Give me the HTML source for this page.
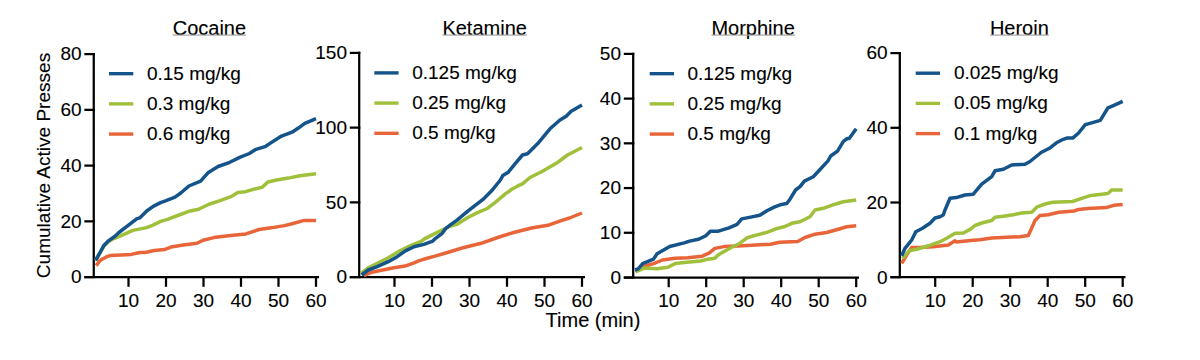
<!DOCTYPE html>
<html><head><meta charset="utf-8"><style>
html,body{margin:0;padding:0;background:#fff;width:1200px;height:360px;overflow:hidden}
svg{display:block}
text{font-family:"Liberation Sans",sans-serif;fill:#000;stroke:#000;stroke-width:0.12px}
.ax path{stroke:#000;stroke-width:2.25;fill:none;stroke-linecap:butt}
.tk{font-size:19px}
.lg{font-size:19px}
.tt{font-size:20px}
.yl{font-size:19.05px}
.xl{font-size:20px}
</style></head><body>
<svg width="1200" height="360" viewBox="0 0 1200 360">
<text class="yl" transform="translate(50 165.5) rotate(-90)" text-anchor="middle">Cumulative Active Presses</text>
<text class="xl" x="593" y="326.5" text-anchor="middle">Time (min)</text>
<g class="ax"><path d="M93.75 52.98V277.10M84.35 277.10H319.00" /><path d="M84.35 277.10H94.87" /><text x="81.55" y="283.40" text-anchor="end" class="tk">0</text><path d="M84.35 221.35H94.87" /><text x="81.55" y="227.65" text-anchor="end" class="tk">20</text><path d="M84.35 165.60H94.87" /><text x="81.55" y="171.90" text-anchor="end" class="tk">40</text><path d="M84.35 109.85H94.87" /><text x="81.55" y="116.15" text-anchor="end" class="tk">60</text><path d="M84.35 54.10H94.87" /><text x="81.55" y="60.40" text-anchor="end" class="tk">80</text><path d="M128.50 277.10V286.80" /><text x="128.50" y="306.60" text-anchor="middle" class="tk">10</text><path d="M166.00 277.10V286.80" /><text x="166.00" y="306.60" text-anchor="middle" class="tk">20</text><path d="M203.50 277.10V286.80" /><text x="203.50" y="306.60" text-anchor="middle" class="tk">30</text><path d="M241.00 277.10V286.80" /><text x="241.00" y="306.60" text-anchor="middle" class="tk">40</text><path d="M278.50 277.10V286.80" /><text x="278.50" y="306.60" text-anchor="middle" class="tk">50</text><path d="M316.00 277.10V286.80" /><text x="316.00" y="306.60" text-anchor="middle" class="tk">60</text></g><path d="M109.00 73.67H133.30" stroke="#14548a" stroke-width="3.4" fill="none"/><text x="146.90" y="79.57" class="lg">0.15 mg/kg</text><path d="M109.00 103.87H133.30" stroke="#a0c03c" stroke-width="3.4" fill="none"/><text x="146.90" y="109.77" class="lg">0.3 mg/kg</text><path d="M109.00 134.07H133.30" stroke="#e8653a" stroke-width="3.4" fill="none"/><text x="146.90" y="139.97" class="lg">0.6 mg/kg</text><text x="172.70" y="34.6" class="tt">Cocaine</text><rect x="172.70" y="34.5" width="73.40" height="1.15" fill="#a0a0a0"/><path d="M96.2 265.6 L100.0 260.6 L106.2 256.9 L110.0 255.6 L121.2 255.0 L131.2 254.4 L140.0 252.5 L145.0 252.5 L154.2 250.5 L164.9 249.4 L171.0 247.1 L183.2 245.1 L197.0 243.3 L203.1 240.2 L213.8 237.6 L230.6 235.5 L245.9 233.9 L259.1 229.5 L272.7 227.6 L284.4 225.6 L292.1 223.7 L303.3 220.6 L316.0 220.6" stroke="#e8653a" stroke-width="3.5" fill="none" stroke-linejoin="round" stroke-linecap="butt"/><path d="M95.6 260.5 L100.0 253.0 L103.8 246.3 L108.0 242.0 L112.0 239.5 L118.9 236.7 L132.8 230.4 L146.7 227.6 L153.6 224.9 L160.6 221.4 L167.5 219.3 L175.0 216.5 L188.9 211.3 L198.6 209.3 L208.4 204.5 L220.0 200.6 L231.7 196.3 L237.8 192.6 L245.5 191.7 L253.3 189.3 L262.0 187.4 L267.9 182.0 L276.6 180.0 L288.3 178.1 L299.9 175.7 L316.0 173.8" stroke="#a0c03c" stroke-width="3.5" fill="none" stroke-linejoin="round" stroke-linecap="butt"/><path d="M95.6 260.3 L100.0 252.5 L103.8 245.6 L108.8 240.6 L115.0 236.2 L118.9 232.5 L127.2 226.2 L137.0 218.6 L139.7 217.9 L146.7 211.0 L153.6 206.1 L160.6 202.6 L166.1 200.6 L175.0 197.1 L181.1 192.8 L188.9 186.0 L200.6 181.1 L208.4 172.4 L218.1 166.5 L229.8 162.3 L239.7 157.4 L249.4 153.5 L255.2 149.7 L265.0 146.7 L270.8 142.9 L281.5 136.1 L292.1 132.2 L298.0 128.3 L304.8 123.4 L316.0 118.6" stroke="#14548a" stroke-width="3.5" fill="none" stroke-linejoin="round" stroke-linecap="butt"/><g class="ax"><path d="M359.20 51.78V277.10M349.80 277.10H585.00" /><path d="M349.80 277.10H360.32" /><text x="347.00" y="283.40" text-anchor="end" class="tk">0</text><path d="M349.80 202.37H360.32" /><text x="347.00" y="208.67" text-anchor="end" class="tk">50</text><path d="M349.80 127.63H360.32" /><text x="347.00" y="133.93" text-anchor="end" class="tk">100</text><path d="M349.80 52.90H360.32" /><text x="347.00" y="59.20" text-anchor="end" class="tk">150</text><path d="M394.50 277.10V286.80" /><text x="394.50" y="306.60" text-anchor="middle" class="tk">10</text><path d="M432.00 277.10V286.80" /><text x="432.00" y="306.60" text-anchor="middle" class="tk">20</text><path d="M469.50 277.10V286.80" /><text x="469.50" y="306.60" text-anchor="middle" class="tk">30</text><path d="M507.00 277.10V286.80" /><text x="507.00" y="306.60" text-anchor="middle" class="tk">40</text><path d="M544.50 277.10V286.80" /><text x="544.50" y="306.60" text-anchor="middle" class="tk">50</text><path d="M582.00 277.10V286.80" /><text x="582.00" y="306.60" text-anchor="middle" class="tk">60</text></g><path d="M374.30 72.90H398.60" stroke="#14548a" stroke-width="3.4" fill="none"/><text x="412.20" y="78.80" class="lg">0.125 mg/kg</text><path d="M374.30 103.10H398.60" stroke="#a0c03c" stroke-width="3.4" fill="none"/><text x="412.20" y="109.00" class="lg">0.25 mg/kg</text><path d="M374.30 133.30H398.60" stroke="#e8653a" stroke-width="3.4" fill="none"/><text x="412.20" y="139.20" class="lg">0.5 mg/kg</text><text x="442.40" y="34.6" class="tt">Ketamine</text><rect x="442.40" y="34.5" width="84.50" height="1.15" fill="#a0a0a0"/><path d="M363.9 275.6 L371.7 272.2 L382.8 270.0 L393.9 267.8 L405.0 266.1 L412.8 263.3 L419.4 260.6 L427.2 258.3 L435.0 256.1 L445.0 253.2 L463.0 247.8 L481.1 243.3 L499.2 237.0 L513.6 232.5 L531.6 228.0 L547.9 225.3 L560.5 220.8 L569.5 218.0 L582.0 213.0" stroke="#e8653a" stroke-width="3.5" fill="none" stroke-linejoin="round" stroke-linecap="butt"/><path d="M360.8 273.3 L368.3 267.8 L377.2 263.3 L388.3 257.8 L399.4 251.1 L410.6 245.6 L421.7 241.1 L424.4 238.9 L433.3 234.4 L438.9 231.7 L447.8 227.2 L449.0 226.5 L456.7 224.4 L467.8 217.5 L477.5 212.6 L487.2 208.5 L495.6 202.2 L505.3 193.9 L512.2 189.0 L520.0 184.9 L522.5 183.8 L530.0 177.5 L542.5 171.2 L557.5 162.5 L567.5 155.0 L582.0 147.5" stroke="#a0c03c" stroke-width="3.5" fill="none" stroke-linejoin="round" stroke-linecap="butt"/><path d="M361.7 275.0 L368.3 270.0 L377.2 266.7 L388.3 261.7 L397.2 256.7 L405.0 251.1 L413.9 246.7 L423.9 244.4 L432.8 241.1 L435.6 238.3 L442.2 233.3 L445.6 228.6 L450.0 225.2 L456.7 220.3 L467.8 211.2 L483.0 199.4 L491.4 191.1 L500.4 180.0 L502.8 175.6 L508.3 172.2 L515.0 163.8 L522.5 155.0 L527.5 153.8 L537.5 143.8 L550.0 128.8 L560.0 120.0 L566.2 116.2 L571.2 111.2 L582.0 105.0" stroke="#14548a" stroke-width="3.5" fill="none" stroke-linejoin="round" stroke-linecap="butt"/><g class="ax"><path d="M633.20 52.78V277.50M623.80 277.50H859.00" /><path d="M623.80 277.50H634.32" /><text x="621.00" y="283.80" text-anchor="end" class="tk">0</text><path d="M623.80 232.78H634.32" /><text x="621.00" y="239.08" text-anchor="end" class="tk">10</text><path d="M623.80 188.06H634.32" /><text x="621.00" y="194.36" text-anchor="end" class="tk">20</text><path d="M623.80 143.34H634.32" /><text x="621.00" y="149.64" text-anchor="end" class="tk">30</text><path d="M623.80 98.62H634.32" /><text x="621.00" y="104.92" text-anchor="end" class="tk">40</text><path d="M623.80 53.90H634.32" /><text x="621.00" y="60.20" text-anchor="end" class="tk">50</text><path d="M668.70 277.50V287.20" /><text x="668.70" y="307.00" text-anchor="middle" class="tk">10</text><path d="M706.20 277.50V287.20" /><text x="706.20" y="307.00" text-anchor="middle" class="tk">20</text><path d="M743.70 277.50V287.20" /><text x="743.70" y="307.00" text-anchor="middle" class="tk">30</text><path d="M781.20 277.50V287.20" /><text x="781.20" y="307.00" text-anchor="middle" class="tk">40</text><path d="M818.70 277.50V287.20" /><text x="818.70" y="307.00" text-anchor="middle" class="tk">50</text><path d="M856.20 277.50V287.20" /><text x="856.20" y="307.00" text-anchor="middle" class="tk">60</text></g><path d="M649.70 73.67H674.00" stroke="#14548a" stroke-width="3.4" fill="none"/><text x="687.50" y="79.57" class="lg">0.125 mg/kg</text><path d="M649.70 103.87H674.00" stroke="#a0c03c" stroke-width="3.4" fill="none"/><text x="687.50" y="109.77" class="lg">0.25 mg/kg</text><path d="M649.70 134.07H674.00" stroke="#e8653a" stroke-width="3.4" fill="none"/><text x="687.50" y="139.97" class="lg">0.5 mg/kg</text><text x="711.40" y="34.6" class="tt">Morphine</text><rect x="711.40" y="34.5" width="83.40" height="1.15" fill="#a0a0a0"/><path d="M635.4 270.8 L644.4 266.3 L653.5 263.6 L662.5 260.0 L675.1 258.2 L687.8 257.7 L702.2 256.2 L709.4 252.9 L714.8 248.4 L723.9 246.6 L738.0 246.0 L756.1 245.1 L770.5 244.2 L779.6 242.3 L797.6 241.5 L805.0 237.5 L815.0 234.2 L826.7 232.5 L838.3 229.2 L846.7 226.7 L856.2 225.8" stroke="#e8653a" stroke-width="3.5" fill="none" stroke-linejoin="round" stroke-linecap="butt"/><path d="M635.4 271.8 L644.4 268.1 L657.1 268.7 L667.9 267.2 L675.1 263.6 L684.2 262.4 L700.4 261.0 L707.6 259.2 L714.8 258.3 L718.4 254.7 L730.8 247.8 L739.9 243.2 L747.1 237.8 L756.1 235.1 L766.9 232.4 L776.0 228.8 L785.0 226.5 L791.7 223.3 L800.0 221.7 L810.0 216.7 L815.0 210.0 L823.3 208.3 L835.0 204.2 L843.3 201.7 L856.2 200.0" stroke="#a0c03c" stroke-width="3.5" fill="none" stroke-linejoin="round" stroke-linecap="butt"/><path d="M635.0 270.0 L638.1 269.0 L642.6 263.6 L653.5 259.1 L657.1 253.7 L669.7 246.5 L684.2 242.9 L689.6 241.1 L698.6 239.3 L705.8 235.8 L710.3 231.2 L718.4 231.2 L729.0 227.9 L737.1 224.3 L741.7 218.9 L750.7 217.1 L759.7 215.3 L766.9 210.8 L774.2 207.1 L781.4 204.4 L786.8 203.5 L790.0 199.2 L795.6 190.0 L800.0 186.7 L804.4 181.1 L813.3 176.7 L827.8 161.1 L830.7 156.0 L837.5 151.1 L843.4 141.4 L847.3 138.5 L849.2 138.5 L856.2 128.8" stroke="#14548a" stroke-width="3.5" fill="none" stroke-linejoin="round" stroke-linecap="butt"/><g class="ax"><path d="M899.80 51.98V277.20M890.40 277.20H1125.50" /><path d="M890.40 277.20H900.92" /><text x="887.60" y="283.50" text-anchor="end" class="tk">0</text><path d="M890.40 202.50H900.92" /><text x="887.60" y="208.80" text-anchor="end" class="tk">20</text><path d="M890.40 127.80H900.92" /><text x="887.60" y="134.10" text-anchor="end" class="tk">40</text><path d="M890.40 53.10H900.92" /><text x="887.60" y="59.40" text-anchor="end" class="tk">60</text><path d="M935.20 277.20V286.90" /><text x="935.20" y="306.70" text-anchor="middle" class="tk">10</text><path d="M972.70 277.20V286.90" /><text x="972.70" y="306.70" text-anchor="middle" class="tk">20</text><path d="M1010.20 277.20V286.90" /><text x="1010.20" y="306.70" text-anchor="middle" class="tk">30</text><path d="M1047.70 277.20V286.90" /><text x="1047.70" y="306.70" text-anchor="middle" class="tk">40</text><path d="M1085.20 277.20V286.90" /><text x="1085.20" y="306.70" text-anchor="middle" class="tk">50</text><path d="M1122.70 277.20V286.90" /><text x="1122.70" y="306.70" text-anchor="middle" class="tk">60</text></g><path d="M915.70 73.20H940.00" stroke="#14548a" stroke-width="3.4" fill="none"/><text x="953.90" y="79.10" class="lg">0.025 mg/kg</text><path d="M915.70 103.40H940.00" stroke="#a0c03c" stroke-width="3.4" fill="none"/><text x="953.90" y="109.30" class="lg">0.05 mg/kg</text><path d="M915.70 133.60H940.00" stroke="#e8653a" stroke-width="3.4" fill="none"/><text x="953.90" y="139.50" class="lg">0.1 mg/kg</text><text x="989.90" y="34.6" class="tt">Heroin</text><rect x="989.90" y="34.5" width="58.90" height="1.15" fill="#a0a0a0"/><path d="M901.7 263.3 L906.7 255.0 L911.7 247.5 L920.0 247.5 L933.3 246.7 L948.3 245.0 L955.0 240.8 L956.3 241.9 L970.5 240.5 L980.0 239.7 L991.7 238.0 L1006.7 237.2 L1020.0 236.8 L1028.3 235.5 L1031.7 228.0 L1035.0 220.5 L1040.0 215.5 L1048.3 214.7 L1058.8 212.2 L1074.1 211.0 L1078.6 209.4 L1087.8 208.4 L1106.2 207.6 L1113.8 205.3 L1122.7 204.5" stroke="#e8653a" stroke-width="3.5" fill="none" stroke-linejoin="round" stroke-linecap="butt"/><path d="M902.5 258.3 L909.2 250.8 L916.7 249.2 L928.3 245.8 L940.0 241.7 L946.7 238.3 L955.0 233.3 L963.4 233.0 L970.5 229.1 L975.0 225.5 L981.7 223.0 L991.7 220.5 L995.0 217.2 L1003.3 216.3 L1013.3 214.7 L1021.7 213.0 L1031.7 212.2 L1036.7 207.2 L1045.0 204.0 L1052.6 202.3 L1072.5 201.5 L1081.7 198.4 L1090.9 195.4 L1106.2 193.8 L1108.5 193.1 L1111.5 190.0 L1122.7 190.0" stroke="#a0c03c" stroke-width="3.5" fill="none" stroke-linejoin="round" stroke-linecap="butt"/><path d="M901.7 255.8 L905.0 248.3 L911.7 240.0 L915.8 231.7 L922.5 228.3 L930.0 223.3 L935.0 218.0 L940.0 216.7 L943.3 215.0 L945.0 210.0 L950.0 198.3 L956.3 197.6 L965.0 195.0 L973.3 194.2 L981.7 184.2 L991.7 176.7 L995.0 170.8 L1003.3 169.2 L1011.7 165.0 L1025.0 164.2 L1030.0 161.5 L1041.1 152.5 L1049.4 148.3 L1056.4 142.8 L1063.3 139.3 L1067.5 137.9 L1073.0 137.9 L1078.6 133.0 L1085.3 124.6 L1092.5 122.6 L1100.3 120.4 L1107.9 107.9 L1112.8 105.8 L1122.7 101.3" stroke="#14548a" stroke-width="3.5" fill="none" stroke-linejoin="round" stroke-linecap="butt"/>
</svg>
</body></html>
